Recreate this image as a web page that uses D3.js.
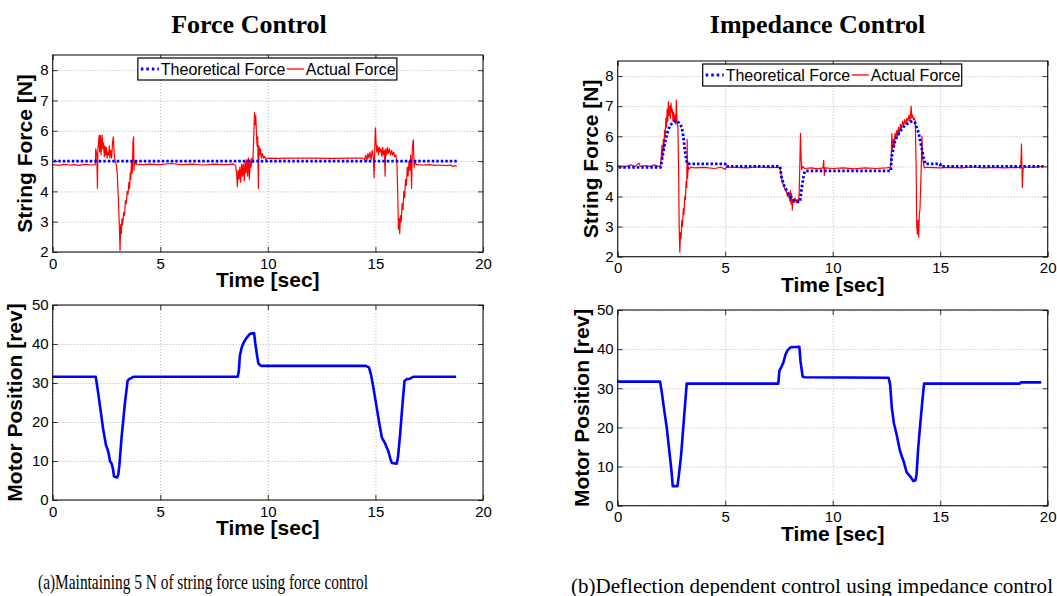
<!DOCTYPE html>
<html>
<head>
<meta charset="UTF-8">
<title>Force Control vs Impedance Control</title>
<script src="https://cdnjs.cloudflare.com/ajax/libs/d3/7.8.5/d3.min.js"></script>
<style>
  body { margin: 0; background: #fff; }
  svg text { fill: #000; }
  .tick text { font-family: "Liberation Sans", Arial, sans-serif; font-size: 15px; }
  .grid line { stroke: #b4b4b4; stroke-dasharray: 1,2; }
  .grid path { display: none; }
  .frame-ticks line { stroke: #333; }
  .frame-ticks path { display: none; }
  .axlabel { font-family: "Liberation Sans", Arial, sans-serif; font-weight: bold; font-size: 21px; }
</style>
</head>
<body>
<svg id="chart" width="1057" height="596"></svg>
<script>
// ---- data ----
const titles = ["Force Control", "Impedance Control"];
const captions = ["(a)Maintaining 5 N of string force using force control",
                  "(b)Deflection dependent control using impedance control"];
const legendNames = ["Theoretical Force", "Actual Force"];
const timeTicks = [0, 5, 10, 15, 20];
const forceTicks = [2, 3, 4, 5, 6, 7, 8];
const posTicks = [0, 10, 20, 30, 40, 50];

// force control: theoretical force [t, N]
const fcTheory = [[0.05, 5.0], [18.8, 5.0]];
// force control: actual force [t, N]
const fcActual = [
  [0,4.88],[0.3,4.86],[0.5,4.89],[0.8,4.87],[1.0,4.88],[1.2,4.86],[1.5,4.89],[1.8,4.87],[1.98,4.88],
  [2.0,5.4],[2.05,5.2],[2.08,4.1],[2.1,5.4],[2.13,5.6],[2.16,5.85],[2.18,5.3],[2.2,5.5],[2.22,5.85],
  [2.25,5.2],[2.28,5.7],[2.3,5.85],[2.33,5.4],[2.36,5.6],[2.4,5.15],[2.43,5.5],[2.46,5.2],[2.5,5.45],
  [2.53,5.1],[2.56,5.3],[2.6,5.2],[2.63,5.5],[2.66,5.1],[2.7,5.35],[2.74,5.1],[2.78,5.6],[2.82,5.8],
  [2.86,5.2],[2.9,5.0],[2.95,4.9],[3.0,4.6],[3.05,3.8],[3.1,2.8],[3.13,2.05],[3.16,2.9],[3.19,2.6],
  [3.22,3.1],[3.25,2.9],[3.3,3.3],[3.34,3.2],[3.38,3.7],[3.42,3.6],[3.46,4.0],[3.5,3.9],[3.54,4.3],
  [3.58,4.1],[3.6,4.6],[3.63,4.4],[3.66,5.0],[3.7,4.6],[3.73,5.6],[3.76,5.8],[3.78,4.7],[3.8,5.0],
  [3.83,4.9],[3.87,5.0],[3.9,4.9],[4.2,4.88],[4.5,4.9],[5.0,4.88],[5.5,4.92],[6.0,4.88],[6.5,4.9],
  [7.0,4.87],[7.5,4.9],[8.0,4.88],[8.4,4.9],[8.5,4.85],[8.55,4.6],[8.58,4.15],[8.62,4.7],[8.66,4.4],
  [8.7,4.8],[8.74,4.3],[8.78,4.9],[8.82,4.5],[8.86,4.9],[8.9,4.35],[8.94,5.0],[8.98,4.6],[9.02,5.05],
  [9.06,4.5],[9.1,5.1],[9.14,4.4],[9.18,5.05],[9.22,4.8],[9.26,5.1],[9.3,4.95],[9.34,5.7],[9.38,6.6],
  [9.41,6.2],[9.44,6.5],[9.47,5.9],[9.5,5.5],[9.53,5.8],[9.56,4.1],[9.59,5.5],[9.62,5.2],[9.66,5.4],
  [9.7,5.1],[9.75,5.25],[9.8,5.1],[9.85,5.15],[9.9,5.05],[10.0,5.1],[10.5,5.09],[11.0,5.1],[12.0,5.1],
  [13.0,5.09],[14.0,5.1],[14.4,5.1],[14.5,5.05],[14.55,5.2],[14.6,5.0],[14.65,5.25],[14.7,5.1],
  [14.75,5.3],[14.8,5.05],[14.85,5.35],[14.9,5.15],[14.94,4.45],[14.97,5.5],[15.0,6.1],[15.03,5.6],
  [15.06,5.3],[15.1,5.5],[15.14,5.2],[15.18,5.45],[15.22,5.3],[15.26,5.4],[15.3,5.15],[15.34,5.45],
  [15.38,5.2],[15.42,5.35],[15.45,4.5],[15.48,5.4],[15.52,5.2],[15.56,5.45],[15.6,5.25],[15.65,5.4],
  [15.7,5.2],[15.75,5.35],[15.8,5.2],[15.85,5.3],[15.9,5.15],[15.95,5.2],[16.0,4.9],[16.04,3.8],
  [16.07,2.75],[16.1,3.1],[16.13,2.6],[16.16,3.2],[16.2,3.0],[16.24,3.6],[16.28,3.4],[16.32,4.0],
  [16.36,3.8],[16.4,4.4],[16.44,4.2],[16.48,4.8],[16.52,4.5],[16.56,5.0],[16.6,4.7],[16.64,5.2],
  [16.68,4.1],[16.72,5.5],[16.76,5.7],[16.8,4.8],[16.84,5.0],[16.88,4.9],[16.95,4.88],[17.2,4.87],
  [17.5,4.88],[17.8,4.86],[18.0,4.87],[18.3,4.85],[18.5,4.87],[18.6,4.82],[18.7,4.85],[18.78,4.83]
];
// force control: motor position [t, rev]
const fcMotor = [
  [0,31.6],[2.0,31.6],[2.1,28],[2.2,24],[2.35,18],[2.48,14],[2.55,13],[2.6,12],[2.66,10],[2.74,9.3],
  [2.8,8],[2.85,6],[3.0,5.8],[3.05,6.5],[3.1,9],[3.2,16],[3.36,25],[3.48,30.5],[3.55,31],[3.67,31.3],
  [3.75,31.6],[8.6,31.6],[8.65,33],[8.7,37],[8.78,39],[8.86,40.2],[9.0,41.5],[9.17,42.6],[9.36,42.8],
  [9.42,40],[9.5,37],[9.56,35],[9.65,34.5],[9.71,34.4],[14.55,34.4],[14.7,34],[14.8,32],[14.9,29],
  [15.05,24],[15.2,19],[15.3,16],[15.45,14.5],[15.6,12.5],[15.7,10.5],[15.76,9.5],[15.99,9.3],
  [16.05,11],[16.15,17],[16.25,24],[16.35,30.5],[16.45,31],[16.6,31.1],[16.76,31.6],[18.75,31.6]
];

// impedance control: theoretical force [t, N]
const icTheory = [
  [0.05,4.97],[2.0,4.97],[2.1,5.4],[2.2,5.8],[2.3,6.1],[2.43,6.35],[2.55,6.45],[2.67,6.5],[2.75,6.52],
  [2.85,6.45],[2.98,6.3],[3.05,6.0],[3.13,5.5],[3.2,5.2],[3.24,5.08],[5.0,5.08],[5.02,5.0],[7.55,5.0],
  [7.63,4.6],[7.75,4.35],[7.86,4.2],[8.0,4.0],[8.1,3.95],[8.2,3.87],[8.33,3.82],[8.48,3.82],[8.56,4.3],
  [8.65,4.7],[8.71,4.85],[12.7,4.85],[12.74,5.3],[12.82,5.6],[12.9,5.85],[13.0,6.0],[13.13,6.15],
  [13.28,6.3],[13.44,6.4],[13.6,6.48],[13.75,6.5],[13.83,6.45],[13.9,6.3],[14.0,6.1],[14.07,5.85],
  [14.14,5.6],[14.22,5.3],[14.3,5.08],[15.0,5.08],[15.02,5.0],[19.8,5.0]
];
// impedance control: actual force [t, N]
const icActual = [
  [0,5.02],[0.4,5.0],[0.6,5.05],[0.8,5.0],[1.0,5.1],[1.05,5.0],[1.3,5.03],[1.5,5.0],[1.7,5.05],[1.9,5.0],
  [2.0,5.02],[2.03,5.4],[2.06,5.7],[2.09,5.3],[2.12,5.9],[2.15,5.6],[2.18,6.2],[2.21,6.0],[2.24,6.6],
  [2.27,6.3],[2.3,6.9],[2.33,6.5],[2.36,7.15],[2.39,6.7],[2.42,7.0],[2.45,6.6],[2.48,7.1],[2.51,6.8],
  [2.54,6.9],[2.57,6.5],[2.6,6.8],[2.63,6.5],[2.66,6.7],[2.7,6.4],[2.73,7.2],[2.76,6.5],[2.8,6.3],
  [2.83,5.0],[2.86,3.0],[2.89,2.15],[2.92,2.8],[2.95,2.6],[2.98,3.2],[3.01,3.0],[3.05,3.6],[3.08,3.4],
  [3.12,4.0],[3.15,3.9],[3.18,4.5],[3.21,4.3],[3.23,5.9],[3.25,4.6],[3.28,5.0],[3.3,4.9],[3.4,4.97],
  [3.6,4.95],[4.0,4.97],[4.5,4.93],[4.8,4.97],[5.0,4.9],[5.05,4.98],[5.5,4.97],[6.0,4.95],[6.5,4.98],
  [7.0,4.96],[7.4,4.97],[7.55,4.95],[7.6,4.7],[7.65,4.5],[7.7,4.4],[7.75,4.3],[7.8,4.2],[7.85,4.15],
  [7.9,4.0],[7.95,4.1],[8.0,3.85],[8.03,4.2],[8.06,3.75],[8.09,4.1],[8.12,3.55],[8.15,3.9],[8.2,3.8],
  [8.25,3.95],[8.3,3.8],[8.35,3.9],[8.4,3.8],[8.44,4.1],[8.47,5.0],[8.5,6.1],[8.53,5.3],[8.56,4.9],
  [8.6,5.0],[8.7,4.93],[9.0,4.95],[9.3,4.92],[9.55,4.95],[9.58,5.2],[9.61,4.7],[9.64,4.95],[10.0,4.93],
  [10.5,4.95],[11.0,4.92],[11.5,4.95],[12.0,4.93],[12.5,4.95],[12.68,4.97],[12.72,5.2],[12.75,6.1],
  [12.78,5.6],[12.82,5.9],[12.86,5.7],[12.9,6.1],[12.94,5.9],[12.98,6.2],[13.02,6.0],[13.06,6.3],
  [13.1,6.1],[13.15,6.4],[13.2,6.25],[13.25,6.5],[13.3,6.35],[13.35,6.55],[13.4,6.4],[13.45,6.6],
  [13.5,6.5],[13.55,6.7],[13.6,6.5],[13.65,7.0],[13.68,6.6],[13.72,6.7],[13.76,6.55],[13.8,6.6],
  [13.84,6.5],[13.88,5.0],[13.91,3.0],[13.94,2.75],[13.97,3.2],[14.0,2.65],[14.03,3.4],[14.06,3.6],
  [14.09,4.3],[14.12,5.0],[14.15,6.0],[14.18,5.3],[14.22,5.1],[14.26,4.95],[14.4,4.97],[15.0,4.95],
  [15.5,4.97],[16.0,4.95],[16.5,4.98],[17.0,4.95],[17.5,4.97],[18.0,4.95],[18.5,4.97],[18.75,4.95],
  [18.78,5.75],[18.8,5.1],[18.82,4.3],[18.85,4.9],[18.9,4.98],[19.3,4.97],[19.8,5.0]
];
// impedance control: motor position [t, rev]
const icMotor = [
  [0,31.7],[1.97,31.7],[2.05,29],[2.2,23],[2.28,20],[2.4,14],[2.5,9],[2.56,5],[2.78,5],[2.85,8],
  [2.95,13],[3.05,20],[3.15,27],[3.21,31.2],[7.47,31.2],[7.52,34.5],[7.6,35.3],[7.7,36.5],[7.8,38.5],
  [7.9,39.7],[8.05,40.5],[8.45,40.6],[8.5,37],[8.6,33],[8.7,32.8],[12.6,32.7],[12.67,31],[12.75,25],
  [12.85,21],[12.98,18],[13.13,14],[13.22,12.5],[13.29,11.5],[13.44,8.5],[13.55,7.8],[13.6,7.5],
  [13.75,6.3],[13.85,6.5],[13.9,8],[13.98,15],[14.06,20],[14.14,25],[14.25,31.2],[18.7,31.2],
  [18.75,31.5],[19.7,31.5]
];

const svg = d3.select("#chart");
const intFmt = d3.format("d");

function drawPanel(p) {
  const x = d3.scaleLinear().domain([0, 20]).range([0, p.w]);
  const y = d3.scaleLinear().domain(p.yDomain).range([p.h, 0]);
  const g = svg.append("g").attr("transform", `translate(${p.x},${p.y})`);

  // dotted grid
  g.append("g").attr("class", "grid")
    .attr("transform", `translate(0,${p.h})`)
    .call(d3.axisBottom(x).tickValues(timeTicks).tickSize(-p.h).tickFormat(""));
  g.append("g").attr("class", "grid")
    .call(d3.axisLeft(y).tickValues(p.yTicks).tickSize(-p.w).tickFormat(""));

  // lines
  const line = d3.line().x(d => x(d[0])).y(d => y(d[1]));
  p.series.forEach(s => {
    g.append("path").datum(s.data)
      .attr("fill", "none")
      .attr("stroke", s.color)
      .attr("stroke-width", s.width)
      .attr("stroke-dasharray", s.dash || null)
      .attr("stroke-linejoin", "round")
      .attr("d", line);
  });

  // inward ticks on all four sides, labels bottom/left
  g.append("g").attr("transform", `translate(0,${p.h})`)
    .call(d3.axisBottom(x).tickValues(timeTicks).tickSize(-5).tickPadding(6).tickFormat(intFmt))
    .call(a => a.select(".domain").remove())
    .call(a => a.selectAll("line").attr("stroke", "#333"));
  g.append("g")
    .call(d3.axisLeft(y).tickValues(p.yTicks).tickSize(-5).tickPadding(4).tickFormat(intFmt))
    .call(a => a.select(".domain").remove())
    .call(a => a.selectAll("line").attr("stroke", "#333"));
  g.append("g").attr("class", "frame-ticks")
    .call(d3.axisTop(x).tickValues(timeTicks).tickSize(-5).tickFormat(""));
  g.append("g").attr("class", "frame-ticks")
    .attr("transform", `translate(${p.w},0)`)
    .call(d3.axisRight(y).tickValues(p.yTicks).tickSize(-5).tickFormat(""));

  g.append("rect").attr("width", p.w).attr("height", p.h)
    .attr("fill", "none").attr("stroke", "#000").attr("stroke-width", 1);

  // axis labels
  g.append("text").attr("class", "axlabel")
    .attr("x", p.w / 2).attr("y", p.h + 35)
    .attr("text-anchor", "middle").text("Time [sec]");
  g.append("text").attr("class", "axlabel")
    .attr("transform", `translate(${-p.ylabOff},${p.h / 2}) rotate(-90)`)
    .attr("text-anchor", "middle").text(p.ylabel);

  // legend
  if (p.legend) {
    const lg = g.append("g").attr("transform", `translate(${p.w / 2 - 130},3)`);
    lg.append("rect").attr("width", 259).attr("height", 22)
      .attr("fill", "#fff").attr("stroke", "#000").attr("stroke-width", 1.2);
    lg.append("line").attr("x1", 3).attr("x2", 21).attr("y1", 11).attr("y2", 11)
      .attr("stroke", "#0000ff").attr("stroke-width", 2.8).attr("stroke-dasharray", "2.5,3");
    lg.append("text").attr("x", 23).attr("y", 17)
      .style("font-family", "Liberation Sans, Arial, sans-serif").style("font-size", "16px")
      .text(legendNames[0]);
    lg.append("line").attr("x1", 149).attr("x2", 166).attr("y1", 11).attr("y2", 11)
      .attr("stroke", "#ff0000").attr("stroke-width", 1.3);
    lg.append("text").attr("x", 168).attr("y", 17)
      .style("font-family", "Liberation Sans, Arial, sans-serif").style("font-size", "16px")
      .text(legendNames[1]);
  }
}

const theoryStyle = { color: "#0000ff", width: 2.8, dash: "2.5,2" };
const actualStyle = { color: "#ff0000", width: 1.2 };
const motorStyle = { color: "#0000ff", width: 2.6 };

drawPanel({ x: 52.7, y: 55, w: 430.3, h: 197, yDomain: [2, 8.5], yTicks: forceTicks,
  ylabel: "String Force [N]", ylabOff: 21, legend: true,
  series: [Object.assign({ data: fcActual }, actualStyle), Object.assign({ data: fcTheory }, theoryStyle)] });
drawPanel({ x: 617.7, y: 61, w: 430, h: 195.7, yDomain: [2, 8.5], yTicks: forceTicks,
  ylabel: "String Force [N]", ylabOff: 20, legend: true,
  series: [Object.assign({ data: icActual }, actualStyle), Object.assign({ data: icTheory }, theoryStyle)] });
drawPanel({ x: 52.7, y: 305, w: 430.3, h: 195, yDomain: [0, 50], yTicks: posTicks,
  ylabel: "Motor Position [rev]", ylabOff: 31, legend: false,
  series: [Object.assign({ data: fcMotor }, motorStyle)] });
drawPanel({ x: 617.7, y: 310, w: 430, h: 195.7, yDomain: [0, 50], yTicks: posTicks,
  ylabel: "Motor Position [rev]", ylabOff: 29, legend: false,
  series: [Object.assign({ data: icMotor }, motorStyle)] });

// titles and captions
const serif = "Liberation Serif, Times New Roman, serif";
svg.append("text").attr("x", 249).attr("y", 33).attr("text-anchor", "middle")
  .style("font-family", serif).style("font-weight", "bold").style("font-size", "26px")
  .text(titles[0]);
svg.append("text").attr("x", 817.5).attr("y", 33).attr("text-anchor", "middle")
  .style("font-family", serif).style("font-weight", "bold").style("font-size", "26px")
  .text(titles[1]);
svg.append("text").attr("x", 38).attr("y", 589)
  .style("font-family", serif).style("font-size", "22px")
  .attr("textLength", 330).attr("lengthAdjust", "spacingAndGlyphs")
  .text(captions[0]);
svg.append("text").attr("x", 571).attr("y", 593)
  .style("font-family", serif).style("font-size", "21px")
  .attr("textLength", 482).attr("lengthAdjust", "spacingAndGlyphs")
  .text(captions[1]);
</script>
</body>
</html>
